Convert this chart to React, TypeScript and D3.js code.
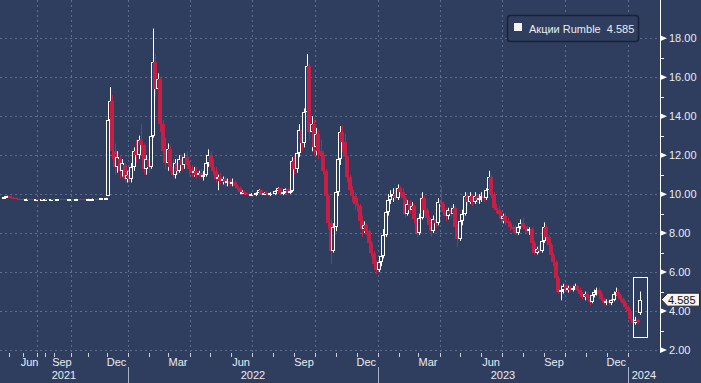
import React from 'react';
import * as d3 from 'd3';

// ---------- data ----------
type Row = [string, number, number, number, number]; // date, open, high, low, close

const ohlc2021: Row[] = [
  ['2021-04-19', 9.84, 9.9, 9.8, 9.86], ['2021-04-26', 9.86, 9.92, 9.82, 9.88],
  ['2021-05-03', 9.88, 9.9, 9.8, 9.82], ['2021-05-10', 9.82, 9.86, 9.78, 9.8],
  ['2021-05-17', 9.8, 9.82, 9.75, 9.77], ['2021-05-24', 9.77, 9.8, 9.74, 9.76],
  ['2021-05-31', 9.76, 9.78, 9.72, 9.74], ['2021-06-07', 9.74, 9.77, 9.72, 9.75],
  ['2021-06-14', 9.75, 9.78, 9.72, 9.73], ['2021-06-21', 9.73, 9.76, 9.7, 9.72],
  ['2021-06-28', 9.72, 9.75, 9.7, 9.74], ['2021-07-05', 9.74, 9.77, 9.71, 9.73],
  ['2021-07-12', 9.73, 9.76, 9.7, 9.72], ['2021-07-19', 9.72, 9.75, 9.7, 9.74],
  ['2021-07-26', 9.74, 9.76, 9.71, 9.73], ['2021-08-02', 9.73, 9.76, 9.71, 9.75],
  ['2021-08-09', 9.75, 9.77, 9.72, 9.73], ['2021-08-16', 9.73, 9.75, 9.7, 9.72],
  ['2021-08-23', 9.72, 9.75, 9.7, 9.74], ['2021-08-30', 9.74, 9.76, 9.71, 9.72],
  ['2021-09-06', 9.72, 9.75, 9.7, 9.74], ['2021-09-13', 9.74, 9.76, 9.71, 9.73],
  ['2021-09-20', 9.73, 9.75, 9.7, 9.72], ['2021-09-27', 9.72, 9.75, 9.7, 9.74],
  ['2021-10-04', 9.74, 9.76, 9.71, 9.73], ['2021-10-11', 9.73, 9.76, 9.71, 9.75],
  ['2021-10-18', 9.75, 9.77, 9.72, 9.74], ['2021-10-25', 9.74, 9.76, 9.71, 9.73],
  ['2021-11-01', 9.73, 9.76, 9.71, 9.75], ['2021-11-08', 9.75, 9.78, 9.72, 9.76],
  ['2021-11-15', 9.76, 9.79, 9.73, 9.75], ['2021-11-22', 9.75, 9.8, 9.74, 9.78],
  ['2021-11-29', 9.78, 9.82, 9.75, 9.8],
  ['2021-12-02', 9.9, 14.2, 9.9, 13.8], ['2021-12-06', 13.8, 15.5, 13.0, 14.8],
  ['2021-12-09', 14.8, 15.1, 11.8, 12.2], ['2021-12-13', 12.2, 12.6, 11.0, 11.4],
  ['2021-12-16', 11.4, 12.2, 11.1, 11.9], ['2021-12-20', 11.8, 12.0, 10.8, 11.2],
  ['2021-12-23', 11.2, 11.8, 10.9, 11.6], ['2021-12-27', 11.5, 11.6, 10.6, 10.8],
  ['2021-12-30', 10.8, 11.2, 10.6, 11.0],
];

const ohlc2022a: Row[] = [
  ['2022-01-03', 11.0, 11.4, 10.6, 10.8], ['2022-01-06', 10.8, 11.6, 10.6, 11.4],
  ['2022-01-10', 11.4, 12.4, 11.2, 12.2], ['2022-01-13', 12.2, 12.8, 11.6, 12.0],
  ['2022-01-17', 12.0, 13.0, 11.8, 12.8], ['2022-01-20', 12.8, 13.6, 12.2, 12.5],
  ['2022-01-24', 12.5, 12.6, 11.0, 11.3], ['2022-01-27', 11.3, 12.0, 11.0, 11.8],
  ['2022-01-31', 11.8, 12.2, 11.1, 11.4], ['2022-02-03', 11.4, 13.3, 11.3, 13.0],
  ['2022-02-07', 13.0, 18.5, 12.9, 16.8], ['2022-02-10', 16.8, 17.2, 15.0, 15.4],
  ['2022-02-14', 15.4, 16.2, 14.8, 15.9], ['2022-02-17', 15.9, 16.0, 13.2, 13.6],
  ['2022-02-21', 13.6, 13.8, 11.8, 12.2], ['2022-02-24', 12.2, 12.9, 11.3, 11.6],
  ['2022-02-28', 11.6, 12.6, 11.2, 12.3], ['2022-03-03', 12.3, 12.5, 11.2, 11.4],
  ['2022-03-07', 11.4, 11.8, 10.8, 11.0], ['2022-03-10', 11.0, 11.8, 10.8, 11.6],
  ['2022-03-14', 11.6, 11.8, 11.0, 11.2], ['2022-03-17', 11.2, 12.0, 11.1, 11.8],
  ['2022-03-21', 11.8, 12.0, 11.2, 11.5], ['2022-03-24', 11.5, 12.1, 11.3, 11.9],
  ['2022-03-28', 11.9, 12.2, 11.3, 11.5], ['2022-03-31', 11.5, 11.7, 11.0, 11.3],
  ['2022-04-04', 11.3, 11.5, 10.9, 11.1], ['2022-04-07', 11.1, 11.4, 10.9, 11.2],
  ['2022-04-11', 11.2, 11.4, 10.8, 11.0], ['2022-04-14', 11.0, 11.2, 10.9, 11.1],
  ['2022-04-18', 11.1, 11.3, 10.8, 10.9], ['2022-04-21', 10.9, 11.2, 10.7, 11.0],
  ['2022-04-25', 11.0, 11.8, 10.9, 11.6], ['2022-04-28', 11.6, 12.3, 11.4, 12.0],
  ['2022-05-02', 12.0, 12.2, 11.2, 11.4], ['2022-05-05', 11.4, 11.8, 11.0, 11.2],
  ['2022-05-09', 11.2, 11.4, 10.6, 10.8], ['2022-05-12', 10.8, 11.0, 10.2, 10.9],
  ['2022-05-16', 10.9, 11.1, 10.5, 10.7], ['2022-05-19', 10.7, 10.9, 10.5, 10.8],
  ['2022-05-23', 10.8, 10.9, 10.4, 10.6], ['2022-05-26', 10.6, 10.8, 10.4, 10.7],
  ['2022-05-30', 10.7, 10.8, 10.4, 10.5], ['2022-06-02', 10.5, 10.8, 10.4, 10.6],
  ['2022-06-06', 10.6, 10.7, 10.3, 10.4], ['2022-06-09', 10.4, 10.5, 10.2, 10.3],
  ['2022-06-13', 10.3, 10.4, 10.0, 10.1], ['2022-06-16', 10.1, 10.2, 10.0, 10.12],
  ['2022-06-20', 10.1, 10.2, 9.95, 10.05], ['2022-06-23', 10.05, 10.1, 9.95, 10.0],
  ['2022-06-27', 10.0, 10.1, 9.9, 9.95], ['2022-06-30', 9.95, 10.05, 9.9, 10.0],
];

const ohlc2022b: Row[] = [
  ['2022-07-04', 10.0, 10.05, 9.9, 9.95], ['2022-07-07', 9.95, 10.1, 9.9, 10.05],
  ['2022-07-11', 10.05, 10.25, 10.0, 10.2], ['2022-07-14', 10.2, 10.2, 9.95, 10.0],
  ['2022-07-18', 10.0, 10.1, 9.95, 10.05], ['2022-07-21', 10.05, 10.15, 9.95, 10.0],
  ['2022-07-25', 10.0, 10.05, 9.9, 9.95], ['2022-07-28', 9.95, 10.1, 9.9, 10.05],
  ['2022-08-01', 10.05, 10.1, 9.95, 10.0], ['2022-08-04', 10.0, 10.2, 9.95, 10.15],
  ['2022-08-08', 10.15, 10.35, 10.05, 10.3], ['2022-08-11', 10.3, 10.3, 10.0, 10.05],
  ['2022-08-15', 10.05, 10.2, 9.95, 10.1], ['2022-08-18', 10.1, 10.3, 10.05, 10.25],
  ['2022-08-22', 10.25, 10.3, 10.0, 10.05], ['2022-08-25', 10.05, 10.2, 10.0, 10.15],
  ['2022-08-29', 10.15, 11.9, 10.1, 11.7], ['2022-09-01', 11.7, 12.0, 11.0, 11.3],
  ['2022-09-05', 11.3, 12.3, 11.1, 12.1], ['2022-09-08', 12.1, 13.6, 11.9, 13.3],
  ['2022-09-12', 13.3, 13.6, 12.2, 12.6], ['2022-09-15', 12.6, 14.4, 12.4, 14.2],
  ['2022-09-19', 14.2, 17.2, 14.0, 16.6], ['2022-09-22', 16.6, 16.7, 12.8, 13.2],
  ['2022-09-26', 13.2, 14.0, 12.2, 13.6], ['2022-09-29', 13.6, 13.8, 12.0, 12.4],
  ['2022-10-03', 12.4, 13.4, 12.0, 13.1], ['2022-10-06', 13.1, 13.3, 11.8, 12.2],
  ['2022-10-10', 12.2, 12.8, 11.4, 12.0], ['2022-10-13', 12.0, 12.2, 11.0, 11.2],
  ['2022-10-17', 11.2, 11.3, 9.6, 9.9], ['2022-10-20', 9.9, 10.0, 8.2, 8.5],
  ['2022-10-24', 8.5, 8.7, 6.4, 7.1], ['2022-10-27', 7.1, 8.5, 7.0, 8.3],
  ['2022-10-31', 8.3, 10.4, 8.1, 10.1], ['2022-11-03', 10.1, 12.0, 9.9, 11.8],
  ['2022-11-07', 11.8, 13.5, 11.5, 13.2], ['2022-11-10', 13.2, 13.5, 12.2, 12.7],
  ['2022-11-14', 12.7, 13.1, 11.6, 11.9], ['2022-11-17', 11.9, 12.0, 10.6, 10.9],
  ['2022-11-21', 10.9, 11.0, 10.0, 10.2], ['2022-11-24', 10.2, 10.4, 9.6, 9.9],
  ['2022-11-28', 9.9, 10.1, 9.2, 9.5], ['2022-12-01', 9.5, 9.8, 9.1, 9.4],
  ['2022-12-05', 9.4, 9.5, 8.4, 8.6], ['2022-12-08', 8.6, 8.9, 7.8, 8.2],
  ['2022-12-12', 8.2, 8.6, 8.0, 8.4], ['2022-12-15', 8.4, 8.5, 7.9, 8.1],
  ['2022-12-19', 8.1, 8.2, 7.3, 7.5], ['2022-12-22', 7.5, 7.6, 6.8, 7.0],
  ['2022-12-26', 7.0, 7.1, 6.2, 6.4], ['2022-12-29', 6.4, 6.6, 5.9, 6.1],
];

const ohlc2023a: Row[] = [
  ['2023-01-02', 6.1, 6.7, 6.0, 6.5], ['2023-01-05', 6.5, 7.0, 6.3, 6.8],
  ['2023-01-09', 6.8, 8.2, 6.7, 7.9], ['2023-01-12', 7.9, 9.3, 7.8, 9.1],
  ['2023-01-16', 9.1, 10.0, 8.9, 9.7], ['2023-01-19', 9.7, 10.2, 9.5, 9.9],
  ['2023-01-23', 9.9, 10.3, 9.6, 10.0], ['2023-01-26', 10.0, 10.4, 9.7, 9.8],
  ['2023-01-30', 9.8, 10.5, 9.7, 10.3], ['2023-02-02', 10.3, 10.4, 9.9, 10.1],
  ['2023-02-06', 10.1, 10.3, 9.6, 9.8], ['2023-02-09', 9.8, 9.9, 8.8, 9.0],
  ['2023-02-13', 9.0, 9.7, 8.9, 9.5], ['2023-02-16', 9.5, 9.7, 9.0, 9.2],
  ['2023-02-20', 9.2, 9.6, 8.9, 9.4], ['2023-02-23', 9.4, 9.5, 8.5, 8.7],
  ['2023-02-27', 8.7, 8.8, 7.8, 8.0], ['2023-03-02', 8.0, 9.0, 7.9, 8.8],
  ['2023-03-06', 8.8, 10.1, 8.7, 9.8], ['2023-03-09', 9.8, 9.9, 9.0, 9.2],
  ['2023-03-13', 9.2, 9.3, 8.6, 8.8], ['2023-03-16', 8.8, 8.9, 8.2, 8.4],
  ['2023-03-20', 8.4, 8.5, 7.8, 8.1], ['2023-03-23', 8.1, 8.9, 8.0, 8.7],
  ['2023-03-27', 8.7, 8.9, 8.3, 8.5], ['2023-03-30', 8.5, 9.8, 8.4, 9.6],
  ['2023-04-03', 9.6, 10.4, 9.3, 9.5], ['2023-04-06', 9.5, 9.6, 8.9, 9.1],
  ['2023-04-10', 9.1, 9.3, 8.6, 8.9], ['2023-04-13', 8.9, 9.3, 8.7, 9.2],
  ['2023-04-17', 9.2, 9.4, 8.8, 9.0], ['2023-04-20', 9.0, 9.5, 8.9, 9.3],
  ['2023-04-24', 9.3, 9.4, 8.1, 8.3], ['2023-04-27', 8.3, 8.5, 7.3, 7.7],
  ['2023-05-01', 7.7, 8.8, 7.6, 8.6], ['2023-05-04', 8.6, 9.2, 8.4, 9.0],
  ['2023-05-08', 9.0, 10.1, 8.9, 9.9], ['2023-05-11', 9.9, 10.1, 9.4, 9.6],
  ['2023-05-15', 9.6, 10.1, 9.5, 9.9], ['2023-05-18', 9.9, 10.0, 9.4, 9.6],
  ['2023-05-22', 9.6, 10.1, 9.5, 9.9], ['2023-05-25', 9.9, 10.0, 9.5, 9.7],
  ['2023-05-29', 9.7, 10.0, 9.5, 9.8], ['2023-06-01', 9.8, 10.1, 9.6, 9.9],
  ['2023-06-05', 9.9, 10.0, 9.6, 9.8], ['2023-06-08', 9.8, 10.3, 9.7, 10.2],
  ['2023-06-12', 10.2, 11.2, 10.1, 10.9], ['2023-06-15', 10.9, 11.0, 9.8, 10.0],
  ['2023-06-19', 10.0, 10.1, 9.2, 9.3], ['2023-06-22', 9.3, 9.5, 9.0, 9.2],
  ['2023-06-26', 9.2, 9.4, 8.9, 9.0], ['2023-06-29', 9.0, 9.1, 8.5, 8.7],
];

const ohlc2023b: Row[] = [
  ['2023-07-03', 8.7, 9.0, 8.5, 8.9], ['2023-07-06', 8.9, 9.0, 8.4, 8.6],
  ['2023-07-10', 8.6, 8.8, 8.3, 8.5], ['2023-07-13', 8.5, 8.6, 8.1, 8.3],
  ['2023-07-17', 8.3, 8.4, 8.0, 8.2], ['2023-07-20', 8.2, 8.4, 7.9, 8.0],
  ['2023-07-24', 8.0, 8.4, 7.9, 8.3], ['2023-07-27', 8.3, 8.7, 8.2, 8.5],
  ['2023-07-31', 8.5, 8.8, 8.2, 8.3], ['2023-08-03', 8.3, 8.4, 8.0, 8.2],
  ['2023-08-07', 8.2, 8.4, 8.0, 8.1], ['2023-08-10', 8.1, 8.3, 7.9, 8.2],
  ['2023-08-14', 8.2, 8.3, 7.4, 7.5], ['2023-08-17', 7.5, 7.6, 6.9, 7.0],
  ['2023-08-21', 7.0, 7.3, 6.9, 7.2], ['2023-08-24', 7.2, 7.4, 7.0, 7.1],
  ['2023-08-28', 7.1, 7.8, 7.0, 7.6], ['2023-08-31', 7.6, 8.55, 7.5, 8.3],
  ['2023-09-04', 8.3, 8.4, 7.6, 7.8], ['2023-09-07', 7.8, 7.9, 7.2, 7.4],
  ['2023-09-11', 7.4, 7.5, 6.7, 6.9], ['2023-09-14', 6.9, 7.0, 6.3, 6.5],
  ['2023-09-18', 6.5, 6.6, 5.5, 5.7], ['2023-09-21', 5.7, 5.8, 4.9, 5.0],
  ['2023-09-25', 5.0, 5.3, 4.55, 5.1], ['2023-09-28', 5.1, 5.4, 4.9, 5.3],
  ['2023-10-02', 5.3, 5.4, 5.0, 5.1], ['2023-10-05', 5.1, 5.3, 4.95, 5.2],
  ['2023-10-09', 5.2, 5.3, 5.0, 5.1], ['2023-10-12', 5.1, 5.3, 5.0, 5.2],
  ['2023-10-16', 5.2, 5.4, 5.1, 5.3], ['2023-10-19', 5.3, 5.35, 5.0, 5.1],
  ['2023-10-23', 5.1, 5.2, 4.8, 4.9], ['2023-10-26', 4.9, 5.0, 4.6, 4.7],
  ['2023-10-30', 4.7, 5.0, 4.55, 4.9], ['2023-11-02', 4.9, 5.0, 4.6, 4.7],
  ['2023-11-06', 4.7, 4.8, 4.3, 4.45], ['2023-11-09', 4.45, 4.9, 4.4, 4.8],
  ['2023-11-13', 4.8, 5.1, 4.7, 5.0], ['2023-11-16', 5.0, 5.2, 4.8, 5.1],
  ['2023-11-20', 5.1, 5.2, 4.8, 4.9], ['2023-11-23', 4.9, 5.0, 4.5, 4.6],
  ['2023-11-27', 4.6, 4.7, 4.3, 4.4], ['2023-11-30', 4.4, 4.6, 4.3, 4.5],
  ['2023-12-04', 4.5, 4.6, 4.3, 4.4], ['2023-12-07', 4.4, 4.6, 4.3, 4.55],
  ['2023-12-11', 4.55, 5.0, 4.5, 4.9], ['2023-12-14', 4.9, 5.2, 4.8, 5.0],
  ['2023-12-18', 5.0, 5.1, 4.7, 4.8], ['2023-12-21', 4.8, 4.9, 4.5, 4.6],
  ['2023-12-25', 4.6, 4.7, 4.3, 4.4], ['2023-12-28', 4.4, 4.5, 4.1, 4.2],
];

const ohlc2024: Row[] = [
  ['2024-01-01', 4.2, 4.3, 3.9, 4.0], ['2024-01-04', 4.0, 4.1, 3.5, 3.6],
  ['2024-01-08', 3.6, 3.8, 3.3, 3.4], ['2024-01-11', 3.4, 3.7, 3.3, 3.55],
  ['2024-01-15', 3.55, 3.6, 3.35, 3.45], ['2024-01-18', 3.9, 5.0, 3.8, 4.585],
];

const seriesName = 'Акции Rumble';
const lastPrice = 4.585;
const yMajorTicks = [2, 4, 6, 8, 10, 12, 14, 16, 18];
const yMinorTicks = [3, 5, 7, 9, 11, 13, 15, 17];
const monthLabels: [string, string][] = [
  ['2021-06-15', 'Jun'], ['2021-09-15', 'Sep'], ['2021-12-15', 'Dec'],
  ['2022-03-15', 'Mar'], ['2022-06-15', 'Jun'], ['2022-09-15', 'Sep'], ['2022-12-15', 'Dec'],
  ['2023-03-15', 'Mar'], ['2023-06-15', 'Jun'], ['2023-09-15', 'Sep'], ['2023-12-15', 'Dec'],
];
const years = [2021, 2022, 2023, 2024];
const gridDates = [
  '2021-07-01', '2021-10-01', '2022-01-01', '2022-04-01', '2022-07-01', '2022-10-01',
  '2023-01-01', '2023-04-01', '2023-07-01', '2023-10-01', '2024-01-01',
];
// highlight box around latest sessions: [start date, end date, top value, bottom value]
const highlightBox: [string, string, number, number] = ['2024-01-09', '2024-01-29', 5.77, 2.69];

// time axis anchors (the 2021 pre-listing period is compressed on the source chart)
const anchorDates = [
  '2021-05-01', '2021-06-01', '2021-07-01', '2021-08-01', '2021-09-01',
  '2021-10-01', '2021-11-01', '2021-12-01', '2022-01-01', '2024-01-01',
];
const anchorPx = [9, 23, 37, 45, 54, 71, 88, 107, 128, 628];

// ---------- layout ----------
const W = 701;
const H = 383;
const PLOT_R = 660;
const PLOT_B = 352;
const BG = '#2f3e5e';
const GRID = '#5d6d8e';
const RED = '#c81e46';
const WHITE = '#ffffff';
const TEXT = '#e9ecf2';
const FONT = '"Liberation Sans", Arial, sans-serif';

const parse = d3.timeParse('%Y-%m-%d') as (s: string) => Date;

export default function App() {
  const x = d3.scaleTime().domain(anchorDates.map(parse)).range(anchorPx);
  const y = d3.scaleLinear().domain([2, 18]).range([350, 38.3]);

  const rows = [...ohlc2021, ...ohlc2022a, ...ohlc2022b, ...ohlc2023a, ...ohlc2023b, ...ohlc2024];

  const monthTicks = d3.timeMonth.range(parse('2021-04-01'), parse('2024-02-01'));

  const lastY = y(lastPrice);

  return (
    <svg
      width={W}
      height={H}
      viewBox={`0 0 ${W} ${H}`}
      style={{ position: 'fixed', left: 0, top: 0, display: 'block' }}
      fontFamily={FONT}
    >
      <defs>
        <clipPath id="plotClip">
          <rect x={0} y={0} width={PLOT_R} height={PLOT_B} />
        </clipPath>
      </defs>
      <rect x={0} y={0} width={W} height={H} fill={BG} />

      {/* horizontal grid */}
      {yMajorTicks.map((v) => (
        <line
          key={`hg${v}`}
          x1={0}
          x2={PLOT_R}
          y1={Math.round(y(v)) + 0.5}
          y2={Math.round(y(v)) + 0.5}
          stroke={GRID}
          strokeWidth={1}
          strokeDasharray="2,3"
        />
      ))}
      {/* vertical grid */}
      {gridDates.map((d) => {
        const gx = Math.round(x(parse(d))) + 0.5;
        return (
          <line key={`vg${d}`} x1={gx} x2={gx} y1={0} y2={PLOT_B} stroke={GRID} strokeWidth={1} strokeDasharray="2,3" />
        );
      })}

      {/* candles */}
      <g clipPath="url(#plotClip)">
        {rows.map(([ds, o, h, l, c]) => {
          const px = Math.round(x(parse(ds)));
          const cx = px + 0.5;
          const up = c >= o;
          const color = up ? WHITE : RED;
          const top = Math.round(y(Math.max(o, c)));
          const bot = Math.round(y(Math.min(o, c)));
          const bh = Math.max(1, bot - top);
          return (
            <g key={ds}>
              <line x1={cx} x2={cx} y1={y(h)} y2={y(l)} stroke={color} strokeWidth={1} />
              {up ? (
                <rect
                  x={px - 1.5}
                  y={top + 0.5}
                  width={3}
                  height={Math.max(1, bh - 1)}
                  fill={BG}
                  stroke={WHITE}
                  strokeWidth={1}
                />
              ) : (
                <rect x={px - 2} y={top} width={4} height={bh} fill={RED} />
              )}
            </g>
          );
        })}
      </g>

      {/* highlight box */}
      <rect
        x={Math.round(x(parse(highlightBox[0]))) + 0.5}
        y={Math.round(y(highlightBox[2])) + 0.5}
        width={Math.round(x(parse(highlightBox[1])) - x(parse(highlightBox[0])))}
        height={Math.round(y(highlightBox[3]) - y(highlightBox[2]))}
        fill="none"
        stroke={WHITE}
        strokeWidth={1}
      />

      {/* right axis */}
      <line x1={PLOT_R + 0.5} x2={PLOT_R + 0.5} y1={0} y2={PLOT_B} stroke={WHITE} strokeWidth={1} />
      {yMinorTicks.map((v) => (
        <line
          key={`mt${v}`}
          x1={PLOT_R}
          x2={PLOT_R + 4}
          y1={Math.round(y(v)) + 0.5}
          y2={Math.round(y(v)) + 0.5}
          stroke={WHITE}
          strokeWidth={1}
        />
      ))}
      {yMajorTicks.map((v) => {
        const ty = y(v);
        return (
          <g key={`yt${v}`}>
            <path d={`M${PLOT_R},${ty - 3} L${PLOT_R + 7},${ty} L${PLOT_R},${ty + 3} Z`} fill={WHITE} />
            <text x={PLOT_R + 9} y={ty} dy="0.36em" fontSize={11} fill={TEXT}>
              {v.toFixed(2)}
            </text>
          </g>
        );
      })}

      {/* last price tag */}
      <path
        d={`M${PLOT_R + 1.5},${lastY} L${PLOT_R + 7.5},${lastY - 6.5} L${W - 1.5},${lastY - 6.5} L${W - 1.5},${lastY + 6.5} L${PLOT_R + 7.5},${lastY + 6.5} Z`}
        fill="#fbf4ea"
        stroke="#1c2436"
        strokeWidth={1}
      />
      <text x={PLOT_R + 8} y={lastY} dy="0.36em" fontSize={11} fill="#111">
        {lastPrice.toFixed(3)}
      </text>

      {/* bottom axis: month ticks */}
      {monthTicks.map((d) => {
        const mx = Math.round(x(d)) + 0.5;
        if (mx < 0 || mx > PLOT_R) return null;
        return <line key={`mx${+d}`} x1={mx} x2={mx} y1={PLOT_B + 1} y2={PLOT_B + 5} stroke="#c9cfdb" strokeWidth={1} />;
      })}
      {monthLabels.map(([d, t]) => (
        <text key={`ml${d}`} x={x(parse(d))} y={366} textAnchor="middle" fontSize={11} fill={TEXT}>
          {t}
        </text>
      ))}
      {years.slice(1).map((yr) => {
        const sx = Math.round(x(new Date(yr, 0, 1))) + 0.5;
        return <line key={`ys${yr}`} x1={sx} x2={sx} y1={367} y2={H} stroke="#aab3c4" strokeWidth={1} />;
      })}
      {years.map((yr) => {
        const a = Math.max(0, x(new Date(yr, 0, 1)));
        const b = Math.min(PLOT_R, x(new Date(yr + 1, 0, 1)));
        return (
          <text key={`yl${yr}`} x={(a + b) / 2} y={379} textAnchor="middle" fontSize={11} fill={TEXT}>
            {yr}
          </text>
        );
      })}

      {/* legend */}
      <rect x={507.5} y={15.5} width={131} height={26} rx={3} fill={BG} stroke="#18213a" strokeWidth={1.5} />
      <rect x={514} y={23} width={8} height={8} fill="#fbf1ee" />
      <text x={529} y={32.5} fontSize={11} fill={TEXT}>
        {`${seriesName}\u00a0\u00a0${lastPrice}`}
      </text>
    </svg>
  );
}
